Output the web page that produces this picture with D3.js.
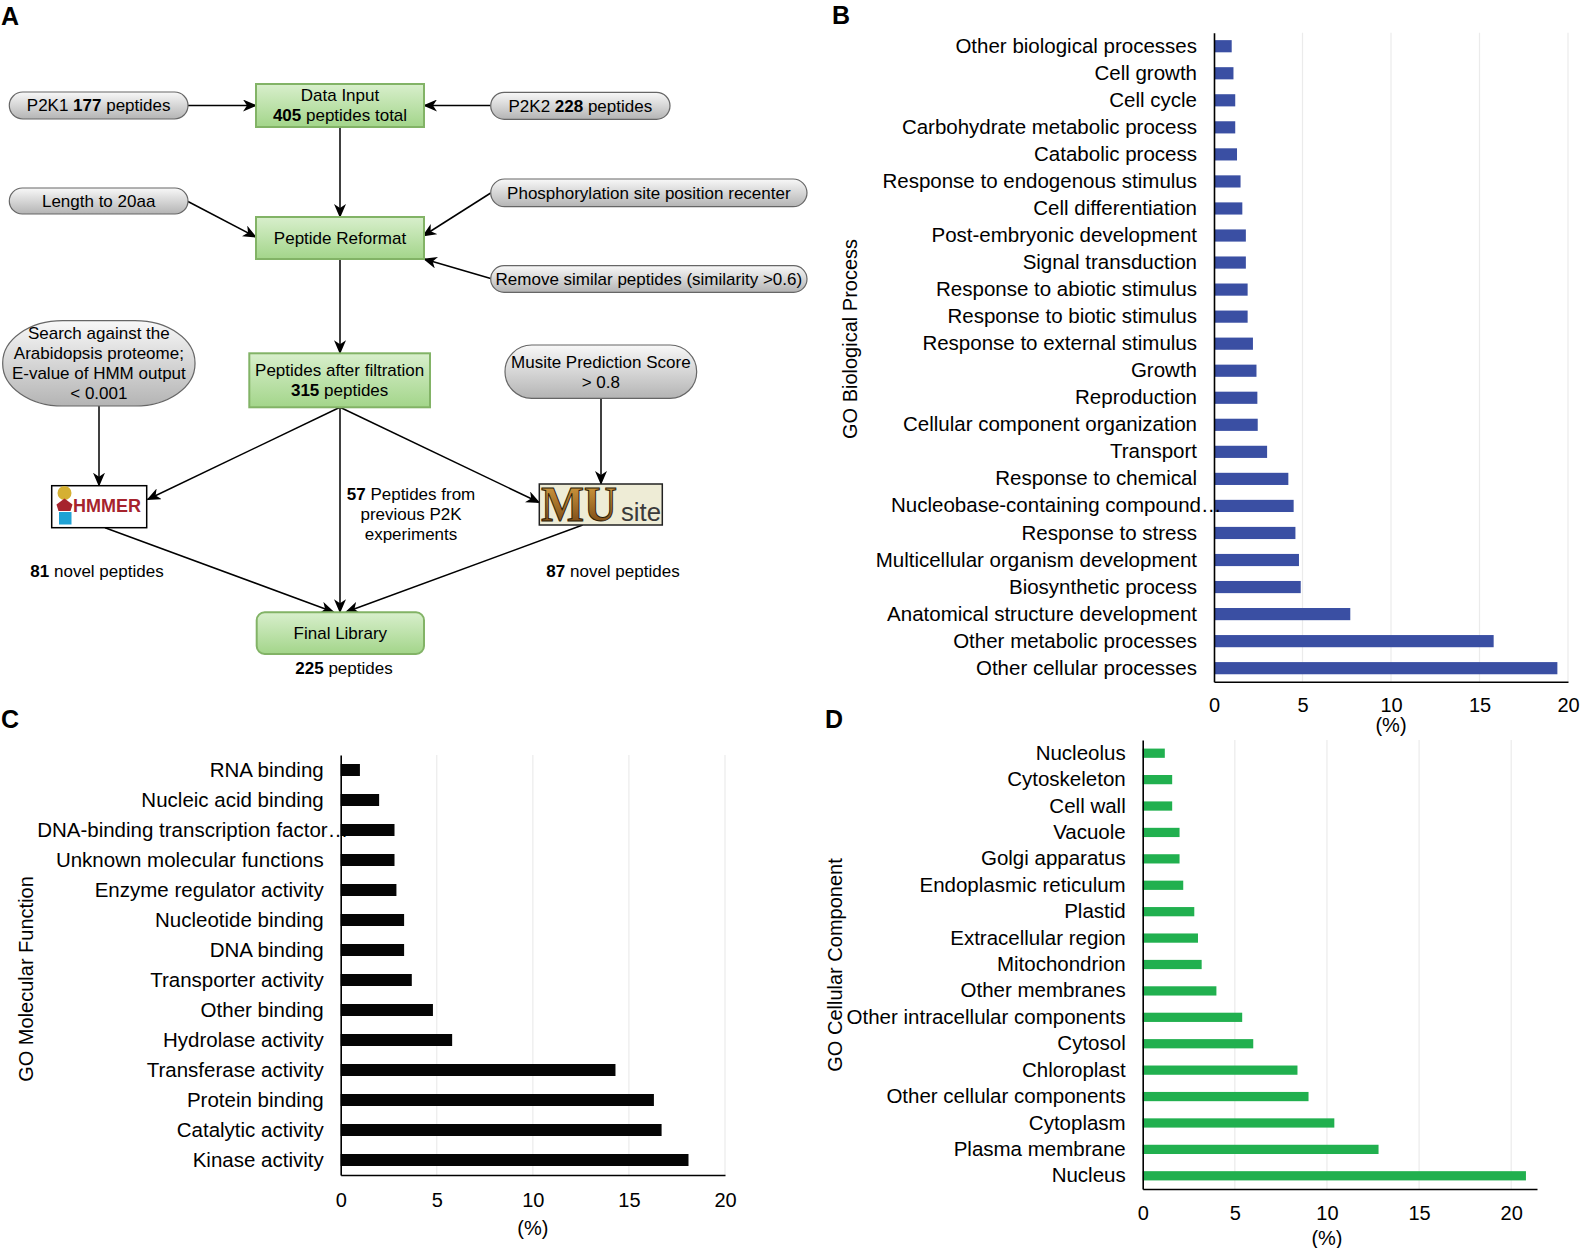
<!DOCTYPE html>
<html>
<head>
<meta charset="utf-8">
<script src="https://cdn.jsdelivr.net/npm/d3@7"></script>
<style>
  body { margin: 0; background: #fff; }
  svg { font-family: "Liberation Sans", Arial, sans-serif; }
</style>
</head>
<body>
<svg id="fig" width="1580" height="1248"></svg>
<script>
// ---- data ----
const xTicks = [0, 5, 10, 15, 20];

const bpCategories = [
  'Other biological processes', 'Cell growth', 'Cell cycle', 'Carbohydrate metabolic process',
  'Catabolic process', 'Response to endogenous stimulus', 'Cell differentiation',
  'Post-embryonic development', 'Signal transduction', 'Response to abiotic stimulus',
  'Response to biotic stimulus', 'Response to external stimulus', 'Growth', 'Reproduction',
  'Cellular component organization', 'Transport', 'Response to chemical',
  'Nucleobase-containing compound…', 'Response to stress', 'Multicellular organism development',
  'Biosynthetic process', 'Anatomical structure development', 'Other metabolic processes',
  'Other cellular processes'
];
const bpValues = [1.0, 1.1, 1.2, 1.2, 1.3, 1.5, 1.6, 1.8, 1.8, 1.9, 1.9, 2.2, 2.4, 2.45,
  2.47, 3.0, 4.2, 4.5, 4.6, 4.8, 4.9, 7.7, 15.8, 19.4];

const mfCategories = [
  'RNA binding', 'Nucleic acid binding', 'DNA-binding transcription factor…',
  'Unknown molecular functions', 'Enzyme regulator activity', 'Nucleotide binding',
  'DNA binding', 'Transporter activity', 'Other binding', 'Hydrolase activity',
  'Transferase activity', 'Protein binding', 'Catalytic activity', 'Kinase activity'
];
const mfValues = [1.0, 2.0, 2.8, 2.8, 2.9, 3.3, 3.3, 3.7, 4.8, 5.8, 14.3, 16.3, 16.7, 18.1];

const ccCategories = [
  'Nucleolus', 'Cytoskeleton', 'Cell wall', 'Vacuole', 'Golgi apparatus',
  'Endoplasmic reticulum', 'Plastid', 'Extracellular region', 'Mitochondrion',
  'Other membranes', 'Other intracellular components', 'Cytosol', 'Chloroplast',
  'Other cellular components', 'Cytoplasm', 'Plasma membrane', 'Nucleus'
];
const ccValues = [1.2, 1.6, 1.6, 2.0, 2.0, 2.2, 2.8, 3.0, 3.2, 4.0, 5.4, 6.0, 8.4, 9.0,
  10.4, 12.8, 20.8];

const svg = d3.select('#fig');
const defs = svg.append('defs');

function vgrad(id, c1, c2) {
  const g = defs.append('linearGradient').attr('id', id)
    .attr('x1', 0).attr('y1', 0).attr('x2', 0).attr('y2', 1);
  g.append('stop').attr('offset', '0%').attr('stop-color', c1);
  g.append('stop').attr('offset', '100%').attr('stop-color', c2);
}
vgrad('gGreen', '#d8efcc', '#a3d58a');
vgrad('gGray', '#f8f8f8', '#b4b4b4');
vgrad('gMU', '#e0a846', '#6b3c0e');

defs.append('marker')
  .attr('id', 'arr')
  .attr('viewBox', '0 0 14 12')
  .attr('refX', 13).attr('refY', 6)
  .attr('markerWidth', 14).attr('markerHeight', 12)
  .attr('markerUnits', 'userSpaceOnUse')
  .attr('orient', 'auto')
  .append('path')
  .attr('d', 'M0,0 L14,6 L0,12 L4,6 Z')
  .attr('fill', '#000');

// ---- panel letters ----
[['A', 1, 25], ['B', 832, 24], ['C', 1, 728], ['D', 825, 728]].forEach(([t, x, y]) => {
  svg.append('text').attr('x', x).attr('y', y)
    .attr('font-size', 25).attr('font-weight', 'bold').text(t);
});

// ---- panel A: flowchart ----
const fc = svg.append('g').attr('font-size', 17);

function writeLines(g, cx, cy, lines, lh) {
  const n = lines.length;
  lines.forEach((segs, i) => {
    const t = g.append('text')
      .attr('x', cx)
      .attr('y', cy + (i - (n - 1) / 2) * lh)
      .attr('dy', '0.35em')
      .attr('text-anchor', 'middle');
    segs.forEach(([s, b]) => t.append('tspan').attr('font-weight', b ? 'bold' : null).text(s));
  });
}

const nodes = [
  { kind: 'pill', x: 9.3, y: 92, w: 178.7, h: 27, lines: [[['P2K1 ', 0], ['177', 1], [' peptides', 0]]] },
  { kind: 'box', x: 256, y: 84, w: 168, h: 43, lines: [[['Data Input', 0]], [['405', 1], [' peptides total', 0]]] },
  { kind: 'pill', x: 490.7, y: 92.3, w: 179.3, h: 27, lines: [[['P2K2 ', 0], ['228', 1], [' peptides', 0]]] },
  { kind: 'pill', x: 9.3, y: 188, w: 178.7, h: 26, lines: [[['Length to 20aa', 0]]] },
  { kind: 'box', x: 256, y: 217, w: 168, h: 42, lines: [[['Peptide Reformat', 0]]] },
  { kind: 'pill', x: 490.7, y: 179, w: 316.3, h: 27.7, lines: [[['Phosphorylation site position recenter', 0]]] },
  { kind: 'pill', x: 490.7, y: 265.7, w: 316.3, h: 26.6, lines: [[['Remove similar peptides (similarity >0.6)', 0]]] },
  { kind: 'pill', x: 2.7, y: 320.7, w: 192.3, h: 85.3, rx: 60, ry: 42,
    lines: [[['Search against the', 0]], [['Arabidopsis proteome;', 0]], [['E-value of HMM output', 0]], [['< 0.001', 0]]] },
  { kind: 'box', x: 249.3, y: 353.3, w: 180.7, h: 54, lines: [[['Peptides after filtration', 0]], [['315', 1], [' peptides', 0]]] },
  { kind: 'pill', x: 505, y: 345, w: 191.7, h: 53.3, lines: [[['Musite Prediction Score', 0]], [['> 0.8', 0]]] },
  { kind: 'box', x: 256.7, y: 612.3, w: 167.3, h: 41.7, rx: 8, lines: [[['Final Library', 0]]] }
];

// arrows first so boxes sit on top of line ends
const arrows = [
  [188, 105.5, 256, 105.5],
  [490.7, 105.5, 424, 105.5],
  [340, 127, 340, 217],
  [188, 201.5, 256, 237],
  [490.7, 193, 423, 236],
  [490.7, 278.5, 424, 259],
  [340, 259, 340, 353.3],
  [99, 406, 99, 485.7],
  [340, 407.3, 147.5, 499.5],
  [340, 407.3, 539.3, 502.5],
  [340, 407.3, 340, 612.3],
  [601, 398.3, 601, 484],
  [105, 527.7, 333.5, 612],
  [582.7, 525, 346, 612]
];
fc.selectAll('line.arrow').data(arrows).join('line')
  .attr('class', 'arrow')
  .attr('x1', d => d[0]).attr('y1', d => d[1])
  .attr('x2', d => d[2]).attr('y2', d => d[3])
  .attr('stroke', '#000').attr('stroke-width', 1.5)
  .attr('marker-end', 'url(#arr)');

nodes.forEach(n => {
  const g = fc.append('g');
  if (n.kind === 'pill') {
    g.append('rect').attr('x', n.x).attr('y', n.y).attr('width', n.w).attr('height', n.h)
      .attr('rx', n.rx || n.h / 2).attr('ry', n.ry || n.h / 2)
      .attr('fill', 'url(#gGray)').attr('stroke', '#666').attr('stroke-width', 1.2);
  } else {
    g.append('rect').attr('x', n.x).attr('y', n.y).attr('width', n.w).attr('height', n.h)
      .attr('rx', n.rx || 0)
      .attr('fill', 'url(#gGreen)').attr('stroke', '#82b366').attr('stroke-width', 2);
  }
  writeLines(g, n.x + n.w / 2, n.y + n.h / 2, n.lines, 20);
});

writeLines(fc, 411, 514, [[['57', 1], [' Peptides from', 0]], [['previous P2K', 0]], [['experiments', 0]]], 20);
writeLines(fc, 97, 570.7, [[['81', 1], [' novel peptides', 0]]], 20);
writeLines(fc, 613, 570.7, [[['87', 1], [' novel peptides', 0]]], 20);
writeLines(fc, 344, 668, [[['225', 1], [' peptides', 0]]], 20);

// HMMER logo
const hm = fc.append('g');
hm.append('rect').attr('x', 51.7).attr('y', 485.7).attr('width', 95).attr('height', 42)
  .attr('fill', '#fff').attr('stroke', '#000').attr('stroke-width', 1.5);
hm.append('circle').attr('cx', 64.5).attr('cy', 493).attr('r', 7).attr('fill', '#d5b032');
hm.append('path').attr('d', 'M64.5,498.5 L72.5,504.5 L70.5,511 L58.5,511 L56.5,504.5 Z').attr('fill', '#a6232d');
hm.append('rect').attr('x', 59).attr('y', 512).attr('width', 12.5).attr('height', 12.5).attr('fill', '#1fa2d5');
hm.append('text').attr('x', 73).attr('y', 512).attr('font-size', 17.5).attr('font-weight', 'bold')
  .attr('fill', '#a6232d').attr('textLength', 68).attr('lengthAdjust', 'spacingAndGlyphs').text('HMMER');

// MUsite logo
const mu = fc.append('g');
mu.append('rect').attr('x', 539.3).attr('y', 484).attr('width', 123).attr('height', 41)
  .attr('fill', '#eeecd6').attr('stroke', '#222').attr('stroke-width', 1.5);
mu.append('text').attr('x', 541).attr('y', 521).attr('font-size', 50)
  .style('font-family', '"Liberation Serif", "DejaVu Serif", serif').attr('font-weight', 'bold')
  .attr('textLength', 76).attr('lengthAdjust', 'spacingAndGlyphs')
  .attr('fill', 'url(#gMU)').attr('stroke', '#2a1804').attr('stroke-width', 1).text('MU');
mu.append('text').attr('x', 621).attr('y', 521).attr('font-size', 26)
  .attr('textLength', 40).attr('lengthAdjust', 'spacingAndGlyphs')
  .attr('fill', '#3a3a3a').text('site');

// ---- bar panels ----
function barPanel(o) {
  const y = d3.scaleBand().domain(o.cats).range([o.top, o.bottom])
    .paddingInner(o.pad).paddingOuter(o.pad / 2);
  const x = d3.scaleLinear().domain([0, o.max]).range([o.left, o.right]);
  const g = svg.append('g');

  g.selectAll('line.grid').data(xTicks.filter(t => t > 0)).join('line')
    .attr('class', 'grid')
    .attr('x1', d => x(d)).attr('x2', d => x(d))
    .attr('y1', o.top).attr('y2', o.bottom)
    .attr('stroke', '#ebebeb').attr('stroke-width', 1.2);

  g.selectAll('rect.bar').data(o.vals).join('rect')
    .attr('class', 'bar')
    .attr('x', x(0))
    .attr('y', (d, i) => y(o.cats[i]))
    .attr('width', d => x(d) - x(0))
    .attr('height', y.bandwidth())
    .attr('fill', o.color);

  const ay = g.append('g').attr('transform', `translate(${o.left},0)`)
    .call(d3.axisLeft(y).tickSize(0).tickPadding(17));
  ay.attr('font-size', 20.5).attr('font-family', null);
  ay.select('.domain').attr('stroke', '#000').attr('stroke-width', 1.6);
  ay.selectAll('.tick text').each(function (d) {
    if (d.endsWith('…')) {
      d3.select(this).text(d.slice(0, -1)).attr('x', -13);
      d3.select(this.parentNode).append('text')
        .attr('x', -13).attr('dy', '0.32em').attr('fill', '#000')
        .attr('text-anchor', 'start').text('…');
    }
  });

  const ax = g.append('g').attr('transform', `translate(0,${o.bottom})`)
    .call(d3.axisBottom(x).tickValues(xTicks).tickSize(0).tickPadding(o.tp));
  ax.attr('font-size', 20).attr('font-family', null);
  ax.select('.domain').attr('stroke', '#000').attr('stroke-width', 1.6);

  g.append('text').attr('x', x(10)).attr('y', o.unitY).attr('dy', '0.35em')
    .attr('text-anchor', 'middle').attr('font-size', 20).text('(%)');

  g.append('text')
    .attr('transform', `translate(${o.titleX},${o.titleY}) rotate(-90)`)
    .attr('dy', '0.35em').attr('text-anchor', 'middle').attr('font-size', 20).text(o.title);
}

barPanel({
  cats: bpCategories, vals: bpValues, color: '#3a4fa3',
  top: 32.7, bottom: 681.7, left: 1214, right: 1568, max: 20, pad: 0.55,
  tp: 16, unitY: 725, title: 'GO Biological Process', titleX: 850, titleY: 339
});

barPanel({
  cats: mfCategories, vals: mfValues, color: '#050505',
  top: 755, bottom: 1175, left: 340.7, right: 725, max: 20, pad: 0.6,
  tp: 18, unitY: 1228, title: 'GO Molecular Function', titleX: 26, titleY: 979
});

barPanel({
  cats: ccCategories, vals: ccValues, color: '#21b04f',
  top: 740, bottom: 1189, left: 1142.7, right: 1537, max: 21.4, pad: 0.65,
  tp: 17, unitY: 1238, title: 'GO Cellular Component', titleX: 835, titleY: 965
});
</script>
</body>
</html>
